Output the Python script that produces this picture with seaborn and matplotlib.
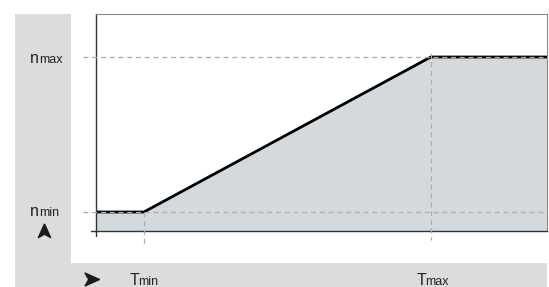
import matplotlib
matplotlib.use("Agg")
import matplotlib.pyplot as plt
import seaborn as sns
import pandas as pd
from matplotlib.patches import Rectangle
from matplotlib.lines import Line2D
from matplotlib.text import Annotation

# ---- data ----
temperature = [0, 10, 70, 94.3]
speed = [20, 20, 100, 100]
t_min, t_max = 10, 70
n_min, n_max = 20, 100
x_range = (0, 94.3)
y_range = (10.2, 122.2)
x_labels = [("T", "min"), ("T", "max")]
y_labels = [("n", "min"), ("n", "max")]

sns.set_style("white")
plt.rcParams['font.family'] = ['Liberation Sans', 'DejaVu Sans']

W, H = 549, 287
fig = plt.figure(figsize=(W / 100, H / 100), dpi=100)


def fx(px):
    return px / W


def fy(py):
    return 1 - py / H


GRAY = "#dcdcdc"
fig.patches.append(Rectangle((fx(15), 0), fx(71) - fx(15), fy(14), transform=fig.transFigure,
                             color=GRAY, zorder=-2, lw=0))
fig.patches.append(Rectangle((fx(15), 0), fx(547) - fx(15), fy(262.5), transform=fig.transFigure,
                             color=GRAY, zorder=-2, lw=0))

ax = fig.add_axes([fx(96), fy(231), fx(547) - fx(96), fy(14) - fy(231)])
ax.set_xlim(*x_range)
ax.set_ylim(*y_range)

# fill under curve
ax.fill_between(temperature, speed, y_range[0], color="#d3d9dc", lw=0, zorder=1)

df = pd.DataFrame({"T": temperature, "n": speed})
sns.lineplot(data=df, x="T", y="n", color="black", lw=2, ax=ax, zorder=2, sort=False)

ref_kw = dict(color="#adadad", lw=0.9, ls=(0, (4, 3)), clip_on=False, zorder=3)
for n in (n_min, n_max):
    ax.plot([-2.7, x_range[1]], [n, n], **ref_kw)
ax.plot([t_min, t_min], [n_min, 3], **ref_kw)
ax.plot([t_max, t_max], [102, 5.5], **ref_kw)

# spines
for s in ("left", "bottom"):
    ax.spines[s].set_color("#333333")
    ax.spines[s].set_linewidth(1.0)
for s in ("top", "right"):
    ax.spines[s].set_color("#8a8a8a")
    ax.spines[s].set_linewidth(0.8)
ax.plot([0, 0], [y_range[0], 7.6], color="#333333", lw=1.0, clip_on=False, zorder=4)
ax.plot([-1.05, 0], [y_range[0], y_range[0]], color="#333333", lw=1.0, clip_on=False, zorder=4)

ax.set_xticks([])
ax.set_yticks([])
ax.set_xlabel("")
ax.set_ylabel("")

# arrows
up = [(0, 1), (0.8, -0.8), (0, -0.35), (-0.8, -0.8), (0, 1)]
right = [(1, 0), (-0.8, 0.8), (-0.35, 0), (-0.8, -0.8), (1, 0)]
fig.lines.append(Line2D([fx(44)], [fy(231)], transform=fig.transFigure, marker=up,
                        markersize=11, color="#1a1a1a", lw=0))
fig.lines.append(Line2D([fx(91)], [fy(279)], transform=fig.transFigure, marker=right,
                        markersize=11.5, color="#1a1a1a", lw=0))


def label(x_px, base_px, main, sub, s_main, s_sub, gap):
    t = fig.text(fx(x_px), fy(base_px), main, fontsize=s_main, va="baseline", ha="left",
                 color="#222222", zorder=5)
    a = Annotation(sub, xy=(1, 0), xycoords=t, xytext=(gap, 0), textcoords="offset points",
                   va="bottom", ha="left", fontsize=s_sub, color="#222222",
                   annotation_clip=False, zorder=5)
    fig.add_artist(a)


label(30, 216, y_labels[0][0], y_labels[0][1], 11.5, 9, 0.0)
label(30, 63, y_labels[1][0], y_labels[1][1], 11.5, 9, 0.0)
label(130, 285, x_labels[0][0], x_labels[0][1], 11.5, 9, -0.8)
label(417, 285, x_labels[1][0], x_labels[1][1], 11.5, 9, -0.8)

fig.savefig("out.png", dpi=100)
